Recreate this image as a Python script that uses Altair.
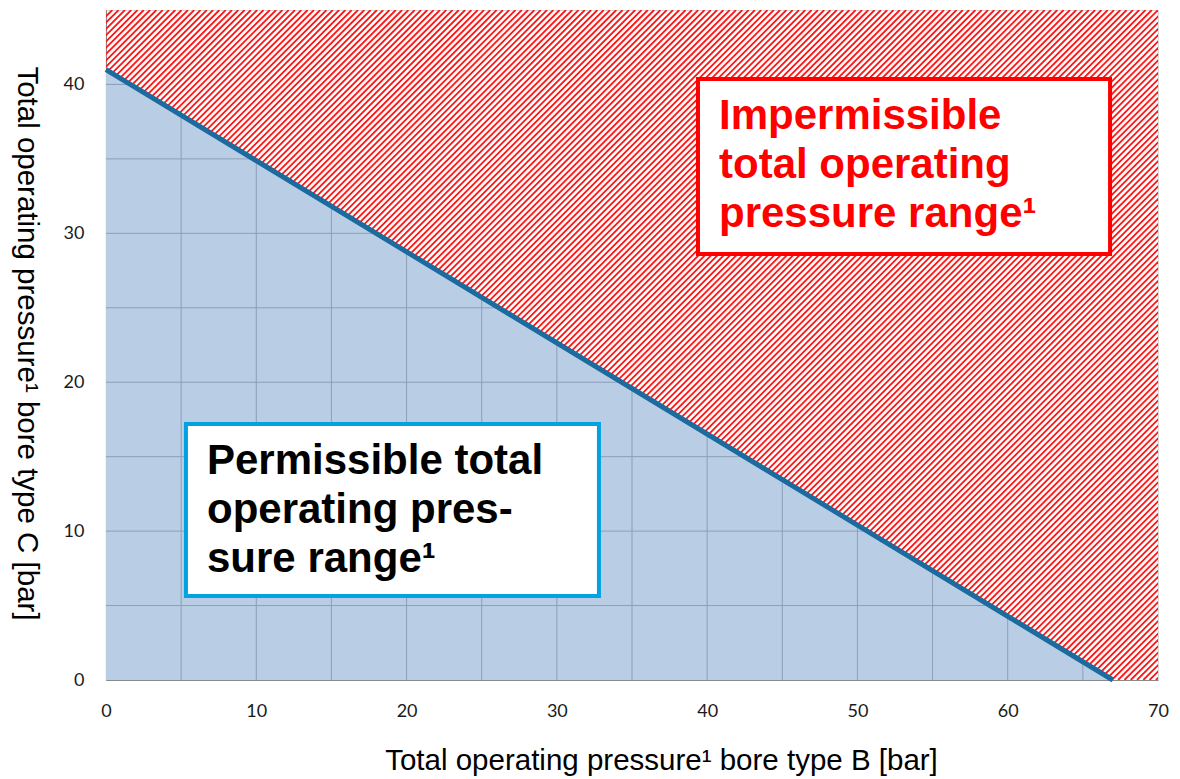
import altair as alt
import pandas as pd

# ---- data ----
boundary_x = [0, 67]        # total operating pressure bore type B [bar]
boundary_y = [41, 0]        # total operating pressure bore type C [bar]
x_ticks = [0, 10, 20, 30, 40, 50, 60, 70]
y_ticks = [0, 10, 20, 30, 40]
grid_x = [5, 10, 15, 20, 25, 30, 35, 40, 45, 50, 55, 60, 65]
grid_y = [5, 10, 15, 20, 25, 30, 35, 40]
x_domain = [0, 70]
y_domain = [0, 45]

box_names = ["impermissible", "permissible"]
box_x1 = [39.39, 5.32]
box_x2 = [66.81, 32.80]
box_y1 = [28.61, 5.64]
box_y2 = [40.37, 17.19]
box_stroke = ["#FF0000", "#00A2E2"]

text_x = [40.79, 6.72]
text_y = [37.01, 13.84]
text_lines = [
    "Impermissible\ntotal operating\npressure range¹",
    "Permissible total\noperating pres-\nsure range¹",
]
text_color = ["#FF0000", "#000000"]

W, H = 1052, 670
sx = W / (x_domain[1] - x_domain[0])
sy = H / (y_domain[1] - y_domain[0])
hatch_pitch_px = 6.3
hatch_step = hatch_pitch_px / sx
hatch_run = y_domain[1] * sy / sx

xs = alt.Scale(domain=x_domain, nice=False, zero=False)
ys = alt.Scale(domain=y_domain, nice=False, zero=False)

boundary = pd.DataFrame({"x": boundary_x, "y": boundary_y})

x0, y0 = boundary_x[1], boundary_y[0]
vgrid = pd.DataFrame({"x": grid_x, "y": [0] * len(grid_x),
                      "y2": [y0 * (1 - g / x0) for g in grid_x]})
hgrid = pd.DataFrame({"y": grid_y, "x": [0] * len(grid_y),
                      "x2": [x0 * (1 - g / y0) for g in grid_y]})

boxes = pd.DataFrame({"name": box_names, "x": box_x1, "x2": box_x2,
                      "y": box_y1, "y2": box_y2, "stroke": box_stroke})
texts = pd.DataFrame({"name": box_names, "x": text_x, "y": text_y,
                      "text": text_lines, "color": text_color})

x_axis = alt.Axis(values=x_ticks, grid=False, ticks=False, labelFlush=False,
                  domainColor="#8A8A8A", domainWidth=1.2,
                  labelFont="Lato", labelFontSize=18, labelColor="#1a1a1a",
                  labelPadding=22,
                  title="Total operating pressure¹ bore type B [bar]",
                  titleFont="Liberation Sans", titleFontSize=29.5,
                  titleFontWeight="normal", titleColor="#000000",
                  titleX=555, titleY=89, titleAlign="center",
                  titleBaseline="alphabetic")
y_axis = alt.Axis(values=y_ticks, grid=False, ticks=False, labelFlush=False,
                  domainColor="#8A8A8A", domainWidth=1.2,
                  labelFont="Lato", labelFontSize=18, labelColor="#1a1a1a",
                  labelPadding=22,
                  title="Total operating pressure¹ bore type C [bar]",
                  titleFont="Liberation Sans", titleFontSize=29.5,
                  titleFontWeight="normal", titleColor="#000000",
                  titleAngle=90, titleX=-80, titleY=333,
                  titleAlign="center", titleBaseline="middle")

# hatch (decorative pattern of the impermissible region)
hatch = alt.Chart(
    alt.sequence(-hatch_run, x_domain[1] + hatch_step, hatch_step, as_="k")
).transform_calculate(
    k2=f"datum.k + {hatch_run}", ya="0", yb=f"{y_domain[1]}"
).mark_rule(clip=True, stroke="#FF1414", strokeWidth=1.8).encode(
    x=alt.X("k:Q", scale=xs, axis=x_axis),
    x2="k2:Q",
    y=alt.Y("ya:Q", scale=ys, axis=y_axis),
    y2="yb:Q",
)

area = alt.Chart(boundary).mark_area(color="#B9CDE5", opacity=1).encode(
    x=alt.X("x:Q", scale=xs),
    y=alt.Y("y:Q", scale=ys),
)

vrules = alt.Chart(vgrid).mark_rule(color="#8C9FB8", strokeWidth=1).encode(
    x=alt.X("x:Q", scale=xs), y=alt.Y("y:Q", scale=ys), y2="y2:Q"
)
hrules = alt.Chart(hgrid).mark_rule(color="#8C9FB8", strokeWidth=1).encode(
    y=alt.Y("y:Q", scale=ys), x=alt.X("x:Q", scale=xs), x2="x2:Q"
)

line = alt.Chart(boundary).mark_line(color="#1B6B9E", strokeWidth=5).encode(
    x=alt.X("x:Q", scale=xs), y=alt.Y("y:Q", scale=ys)
)

box = alt.Chart(boxes).mark_rect(fill="white", strokeWidth=4).encode(
    x=alt.X("x:Q", scale=xs), x2="x2:Q",
    y=alt.Y("y:Q", scale=ys), y2="y2:Q",
    stroke=alt.Stroke("stroke:N", scale=None),
)

label = alt.Chart(texts).mark_text(
    align="left", baseline="alphabetic", font="Liberation Sans",
    fontWeight="bold", fontSize=42, lineHeight=49, lineBreak="\n",
).encode(
    x=alt.X("x:Q", scale=xs), y=alt.Y("y:Q", scale=ys),
    text="text:N", color=alt.Color("color:N", scale=None),
)

chart = alt.layer(hatch, area, vrules, hrules, line, box, label).properties(
    width=W, height=H,
    padding={"left": 98, "top": 2, "right": 14, "bottom": 98},
    autosize=alt.AutoSizeParams(type="none"),
    background="white",
).configure_view(stroke="#D9D9D9", strokeWidth=1)

chart.save("out.html", embed_options={"renderer": "svg", "actions": False})
